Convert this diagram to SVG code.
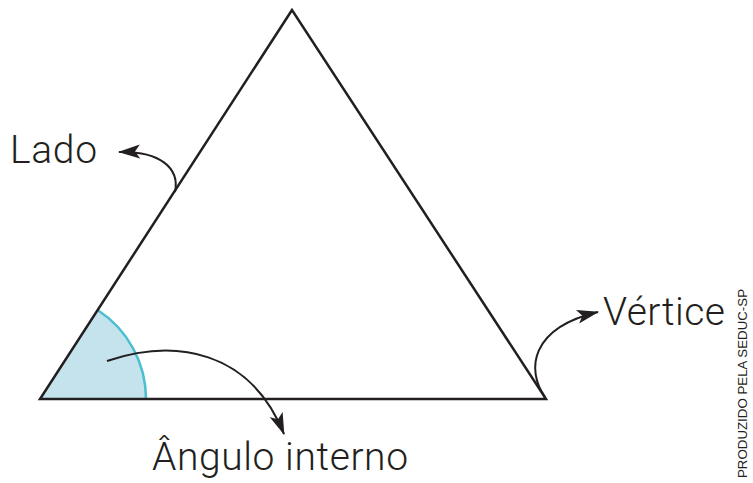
<svg xmlns="http://www.w3.org/2000/svg" width="753" height="483" viewBox="0 0 753 483">
<style>
.lbl{font-family:Roboto,"Liberation Sans",Arial,sans-serif;font-weight:300;font-size:39px;fill:#231f20}
.conn{fill:none;stroke:#231f20;stroke-width:2}
</style>
<defs>
<marker id="ahb" viewBox="0 0 22 14" refX="21" refY="7" markerWidth="22" markerHeight="14" markerUnits="userSpaceOnUse" orient="auto">
<path d="M0,0 L22,7 L0,14 L5,7 z" fill="#231f20"/>
</marker>
</defs>
<rect width="753" height="483" fill="#fff"/>
<g id="angle">
<path d="M40,399 L146,399 A106,106 0 0 0 97.6,310 Z" fill="#c4e3ed"/>
<path d="M146,399 A106,106 0 0 0 97.6,310" fill="none" stroke="#4bbfd0" stroke-width="2.5"/>
</g>
<g id="triangle">
<path d="M292,10 L40,399 L546,399 Z" fill="none" stroke="#231f20" stroke-width="2.5" stroke-linejoin="miter"/>
</g>
<g id="connectors">
<path class="conn" d="M175,192 C180,168 160,151 119,152" marker-end="url(#ahb)"/>
<path class="conn" d="M107,361 C175,338 250,350 284,434" marker-end="url(#ahb)"/>
<path class="conn" d="M545,397 C526,370 530,328 598,312" marker-end="url(#ahb)"/>
</g>
<g id="label-lado"><text class="lbl" x="10" y="163" textLength="87" lengthAdjust="spacing">Lado</text></g>
<g id="label-vertice"><text class="lbl" x="603" y="325" textLength="122" lengthAdjust="spacing">Vértice</text></g>
<g id="label-angulo"><text class="lbl" x="152" y="470" textLength="256" lengthAdjust="spacing">Ângulo interno</text></g>
<g id="credit"><text transform="translate(747,478) rotate(-90)" font-family="Liberation Sans,Arial,sans-serif" font-size="12" fill="#231f20" textLength="189" lengthAdjust="spacingAndGlyphs">PRODUZIDO PELA SEDUC-SP</text></g>
</svg>
